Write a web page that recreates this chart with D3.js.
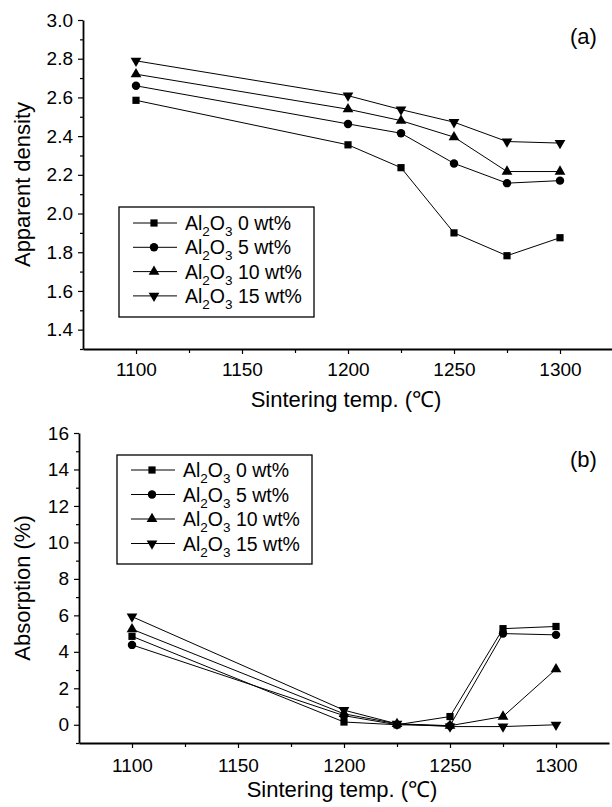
<!DOCTYPE html>
<html>
<head>
<meta charset="utf-8">
<script src="https://cdn.jsdelivr.net/npm/d3@7"></script>
<style>
  body { margin: 0; background: #fff; }
  svg { display: block; font-family: "Liberation Sans", Arial, sans-serif; }
</style>
</head>
<body>
<div id="chart"></div>
<script>
// data
const temps = [1100, 1200, 1225, 1250, 1275, 1300];
const seriesNames = ["0 wt%", "5 wt%", "10 wt%", "15 wt%"];

const density0 = [2.585, 2.355, 2.237, 1.900, 1.782, 1.875];
const density5 = [2.660, 2.463, 2.415, 2.259, 2.157, 2.170];
const density10 = [2.720, 2.539, 2.480, 2.395, 2.217, 2.217];
const density15 = [2.789, 2.609, 2.537, 2.472, 2.372, 2.364];

const absorb0 = [4.85, 0.15, 0.0, 0.45, 5.27, 5.39];
const absorb5 = [4.38, 0.50, 0.0, -0.05, 5.00, 4.93];
const absorb10 = [5.24, 0.60, 0.05, -0.05, 0.45, 3.05];
const absorb15 = [5.93, 0.80, 0.05, -0.10, -0.10, 0.00];

const xTicks = [1100, 1150, 1200, 1250, 1300];
const densityTicks = [1.4, 1.6, 1.8, 2.0, 2.2, 2.4, 2.6, 2.8, 3.0];
const absorbTicks = [0, 2, 4, 6, 8, 10, 12, 14, 16];

const W = 612, H = 807;
const svg = d3.select("#chart").append("svg").attr("width", W).attr("height", H);

const symbols = [d3.symbolSquare, d3.symbolCircle, d3.symbolTriangle, d3.symbolTriangle];
const symSizes = [52, 56, 50, 50];

function marker(sel, i) {
  sel.append("path")
    .attr("d", d3.symbol().type(symbols[i]).size(symSizes[i])())
    .attr("transform", i == 3 ? "rotate(180)" : null)
    .attr("fill", "#000");
}

function panel(opts) {
  const x = d3.scaleLinear().domain([1075, 1325]).range([opts.left, opts.right]);
  const y = d3.scaleLinear().domain(opts.yDomain).range([opts.bottom, opts.top]);
  const g = svg.append("g");

  // minor ticks
  g.append("g")
    .attr("transform", "translate(0," + opts.bottom + ")")
    .call(d3.axisBottom(x).tickValues([1125, 1175, 1225, 1275]).tickSize(4).tickFormat(""))
    .call(a => a.select(".domain").remove());
  g.append("g")
    .attr("transform", "translate(" + opts.left + ",0)")
    .call(d3.axisLeft(y).tickValues(opts.minor).tickSize(3).tickFormat(""))
    .call(a => a.select(".domain").remove());

  // major axes
  const xa = g.append("g")
    .attr("transform", "translate(0," + opts.bottom + ")")
    .call(d3.axisBottom(x).tickValues(xTicks).tickSize(5).tickPadding(opts.xPad)
      .tickFormat(d3.format("d")).tickSizeOuter(0));
  xa.selectAll("text").attr("font-size", 19).attr("fill", "#000");
  const ya = g.append("g")
    .attr("transform", "translate(" + opts.left + ",0)")
    .call(d3.axisLeft(y).tickValues(opts.ticks).tickSize(5).tickPadding(5)
      .tickFormat(opts.fmt).tickSizeOuter(0));
  ya.selectAll("text").attr("font-size", 19).attr("fill", "#000");
  g.selectAll(".domain").attr("stroke", "#000").attr("stroke-width", 1.8);
  g.selectAll(".tick line").attr("stroke", "#000").attr("stroke-width", 1.2);

  // axis titles
  g.append("text")
    .attr("x", (opts.left + opts.right) / 2 - 2)
    .attr("y", opts.titleY)
    .attr("text-anchor", "middle")
    .attr("font-size", 22)
    .text("Sintering  temp. (℃)");
  g.append("text")
    .attr("transform", "translate(30," + ((opts.top + opts.bottom) / 2) + ") rotate(-90)")
    .attr("text-anchor", "middle")
    .attr("font-size", 22)
    .text(opts.yTitle);
  g.append("text")
    .attr("x", 570).attr("y", opts.tagY)
    .attr("font-size", 22)
    .text(opts.tag);

  // series
  const line = d3.line().x((d, i) => x(temps[i])).y(d => y(d));
  opts.series.forEach(function (vals, i) {
    g.append("path")
      .attr("d", line(vals))
      .attr("fill", "none")
      .attr("stroke", "#000")
      .attr("stroke-width", 1);
    vals.forEach(function (v, j) {
      const m = g.append("g").attr("transform", "translate(" + x(temps[j]) + "," + y(v) + ")");
      marker(m, i);
    });
  });

  // legend
  const lg = g.append("g").attr("transform", "translate(" + opts.legX + "," + opts.legY + ")");
  lg.append("rect")
    .attr("width", 195).attr("height", opts.legH)
    .attr("fill", "#fff").attr("stroke", "#000").attr("stroke-width", 1.3);
  seriesNames.forEach(function (name, i) {
    const rowY = opts.legRow0 + i * opts.legStep;
    lg.append("line")
      .attr("x1", 14).attr("x2", 58).attr("y1", rowY).attr("y2", rowY)
      .attr("stroke", "#000").attr("stroke-width", 1);
    marker(lg.append("g").attr("transform", "translate(35," + rowY + ")"), i);
    const t = lg.append("text").attr("x", 66).attr("y", rowY + 7).attr("font-size", 19.5);
    t.append("tspan").text("Al");
    t.append("tspan").attr("dy", 6).attr("font-size", 13.5).text("2");
    t.append("tspan").attr("dy", -6).text("O");
    t.append("tspan").attr("dy", 6).attr("font-size", 13.5).text("3");
    t.append("tspan").attr("dy", -6).text(" " + name);
  });
}

panel({
  left: 83, right: 613, top: 20, bottom: 349,
  yDomain: [1.3, 3.0],
  ticks: densityTicks,
  minor: d3.range(1.3, 3.0, 0.1).map(v => +v.toFixed(1)).filter(v => !densityTicks.includes(v)),
  fmt: d3.format(".1f"),
  yTitle: "Apparent density",
  tag: "(a)", tagY: 44,
  xPad: 9, titleY: 407,
  series: [density0, density5, density10, density15],
  legX: 119, legY: 207, legH: 110, legRow0: 16, legStep: 24.3
});

panel({
  left: 79, right: 609, top: 433, bottom: 743,
  yDomain: [-1, 16],
  ticks: absorbTicks,
  minor: d3.range(-1, 16, 1).filter(v => !absorbTicks.includes(v)),
  fmt: d3.format("d"),
  yTitle: "Absorption (%)",
  tag: "(b)", tagY: 467,
  xPad: 11, titleY: 797,
  series: [absorb0, absorb5, absorb10, absorb15],
  legX: 117, legY: 455, legH: 109, legRow0: 15, legStep: 24.5
});
</script>
</body>
</html>
